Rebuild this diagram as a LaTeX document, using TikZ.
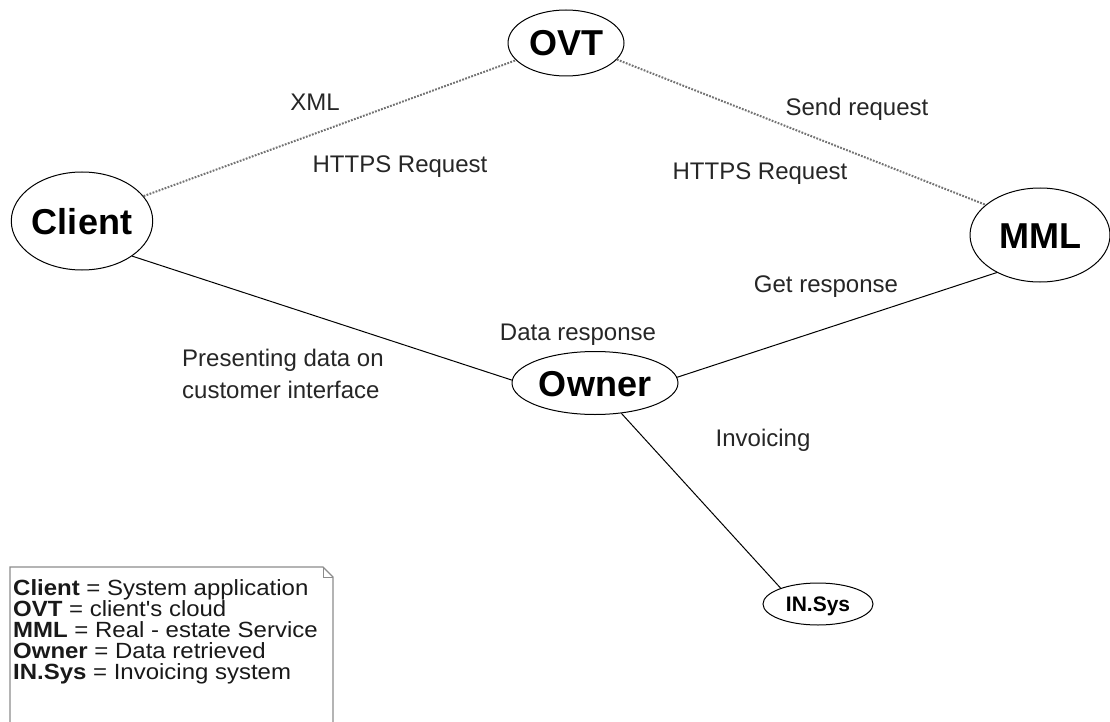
\documentclass[tikz,border=0pt]{standalone}
\usepackage{fontspec}
\setmainfont{Liberation Sans}
\newfontfamily\notefont{Liberation Sans}[FakeStretch=1.09]
\usetikzlibrary{shapes.geometric}
\begin{document}
\begin{tikzpicture}[x=1pt,y=-1pt,
  entity/.style={ellipse,draw=black,line width=1pt,fill=white,inner sep=0pt,
    font=\fontsize{36}{36}\selectfont\bfseries,text height=26pt,text depth=0pt},
  lbl/.style={font=\fontsize{24}{24}\selectfont,text=black!85,inner sep=0pt,anchor=base},
  legend/.style={font=\notefont\fontsize{22}{22}\selectfont,text=black!90,inner sep=0pt,anchor=base west},
  link/.style={draw=black,line width=1pt},
  dotlink/.style={draw=black!55,line width=2pt,dash pattern=on 1.8pt off 1.4pt}]
\useasboundingbox (0,0) rectangle (1110,722);

% entities
\node[entity,minimum width=116pt,minimum height=66pt] (ovt) at (566,43) {OVT};
\node[entity,minimum width=140pt,minimum height=98pt] (client) at (82,221) {Client};
\node[entity,minimum width=140pt,minimum height=94pt] (mml) at (1040,235) {MML};
\node[entity,minimum width=166pt,minimum height=63pt] (owner) at (595,383) {Owner};
\node[entity,minimum width=110pt,minimum height=42pt,
  font=\fontsize{21}{21}\selectfont\bfseries,text height=15pt] (insys) at (818,604) {IN.Sys};

% connectors
\draw[dotlink] (client.22) -- (ovt.199);
\draw[dotlink] (ovt.342) -- (mml.151);
\draw[link] (client.325) -- (owner.178);
\draw[link] (owner.4) -- (mml.221);
\draw[link] (owner.311) -- (insys.157);

% connector labels
\node[lbl] (lxml) at (315,111) {XML};
\node[lbl] (lreqa) at (400,172) {HTTPS Request};
\node[lbl] (lsend) at (857,116) {Send request};
\node[lbl] (lreqb) at (760,179) {HTTPS Request};
\node[lbl] (lget) at (826,292) {Get response};
\node[lbl] (ldata) at (578,340) {Data response};
\node[lbl,anchor=base west] (lpresa) at (182,366) {Presenting data on};
\node[lbl,anchor=base west] (lpresb) at (182,398) {customer interface};
\node[lbl] (linv) at (763,446) {Invoicing};

% legend note with folded corner
\draw[draw=black!45,line width=1.2pt,fill=white]
  (10,730) -- (10,567) -- (323,567) -- (333,577) -- (333,730);
\draw[draw=black!45,line width=1pt] (323,567) -- (323,577) -- (333,577);
\node[legend] (lega) at (13,595) {\textbf{Client} = System application};
\node[legend] (legb) at (13,616) {\textbf{OVT} = client's cloud};
\node[legend] (legc) at (13,637) {\textbf{MML} = Real - estate Service};
\node[legend] (legd) at (13,658) {\textbf{Owner} = Data retrieved};
\node[legend] (lege) at (13,679) {\textbf{IN.Sys} = Invoicing system};
\end{tikzpicture}
\end{document}
